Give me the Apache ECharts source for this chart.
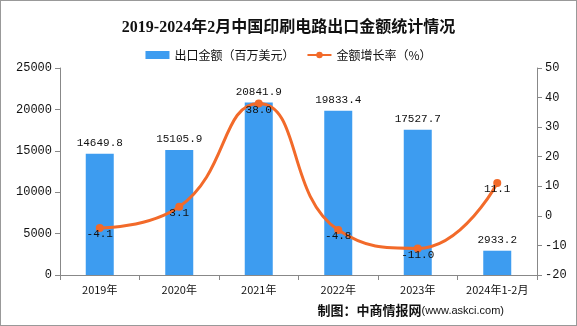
<!DOCTYPE html>
<html><head><meta charset="utf-8">
<script src="https://cdn.jsdelivr.net/npm/echarts@6/dist/echarts.min.js"></script>
<style>html,body{margin:0;padding:0;background:#fff}#c{width:577px;height:326px;box-sizing:border-box;border:1px solid #999}</style>
</head><body><div id="c"></div>
<script>
const categories = ['2019年','2020年','2021年','2022年','2023年','2024年1-2月'];
const exportValues = [14649.8, 15105.9, 20841.9, 19833.4, 17527.7, 2933.2];
const growthRates = [-4.1, 3.1, 38.0, -4.8, -11.0, 11.1];
const chart = echarts.init(document.getElementById('c'));
const numFont = '"Liberation Mono", "DejaVu Sans Mono", monospace';
const axisLine = {show:true, lineStyle:{color:'#888'}};
chart.setOption({
  animation:false,
  title:{text:'2019-2024年2月中国印刷电路出口金额统计情况', left:'center', top:14,
    textStyle:{fontSize:16, fontWeight:'bold', color:'#111', fontFamily:'"Liberation Serif","Noto Sans CJK SC",serif'}},
  legend:{top:43, left:'center', itemWidth:24, itemHeight:8, itemGap:12,
    textStyle:{fontSize:12, color:'#111', fontFamily:'"Noto Sans CJK SC",sans-serif'},
    data:[{name:'出口金额（百万美元）', icon:'rect'}, {name:'金额增长率（%）'}]},
  grid:{left:59, right:39, top:67, bottom:50},
  xAxis:{type:'category', data:categories, axisLine:axisLine, axisTick:{show:true, lineStyle:{color:'#888'}},
    axisLabel:{color:'#111', fontSize:11, margin:9, interval:0, fontFamily:'"Noto Sans CJK SC",sans-serif'}},
  yAxis:[
    {type:'value', min:0, max:25000, interval:5000, axisLine:axisLine, axisTick:{show:true, lineStyle:{color:'#888'}},
     splitLine:{show:false}, axisLabel:{color:'#111', fontSize:12, fontFamily:numFont, formatter:v=>String(v)}},
    {type:'value', min:-20, max:50, interval:10, axisLine:axisLine, axisTick:{show:true, lineStyle:{color:'#888'}},
     splitLine:{show:false}, axisLabel:{color:'#111', fontSize:12, fontFamily:numFont, formatter:v=>String(v)}}
  ],
  series:[
    {name:'出口金额（百万美元）', type:'bar', data:exportValues, barWidth:28, itemStyle:{color:'#3d9cf0'},
     label:{show:true, position:'top', distance:5, color:'#111', fontSize:11, fontFamily:numFont}},
    {name:'金额增长率（%）', type:'line', yAxisIndex:1, data:growthRates, smooth:true, symbol:'circle', symbolSize:8,
     itemStyle:{color:'#f26a2a'}, lineStyle:{width:3, color:'#f26a2a'},
     label:{show:true, position:'bottom', distance:-3, color:'#111', fontSize:11, fontFamily:numFont,
       formatter:p=>p.value.toFixed(1)}}
  ],
  graphic:[{type:'text', right:72, bottom:8, style:{
    text:'{a|制图：中商情报网}{b|(www.askci.com)}',
    rich:{a:{fontSize:13, fontWeight:'bold', fill:'#111', color:'#111', fontFamily:'"Noto Sans CJK SC",sans-serif'},
          b:{fontSize:11, fill:'#111', color:'#111', fontFamily:'"Liberation Sans",sans-serif'}}}}]
});
</script></body></html>
